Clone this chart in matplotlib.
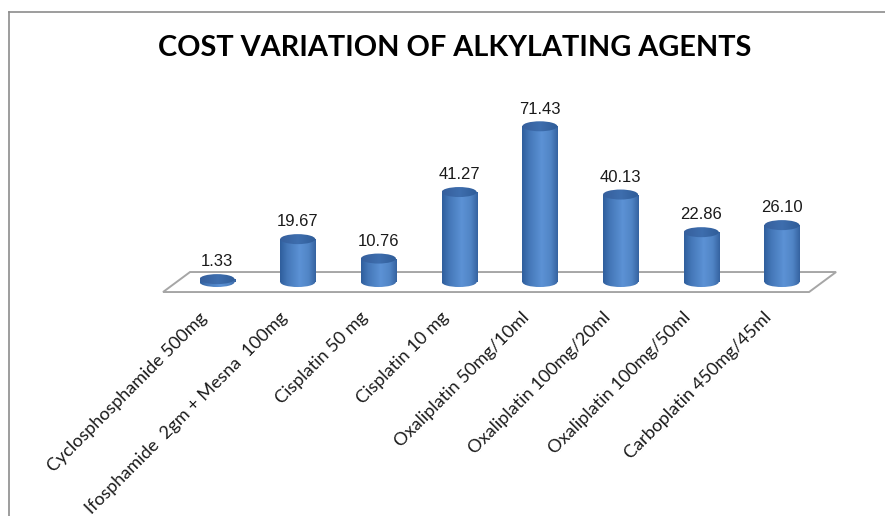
import numpy as np
import matplotlib
matplotlib.use("Agg")
import matplotlib.pyplot as plt
from matplotlib.patches import Ellipse, Polygon
from matplotlib.lines import Line2D
from matplotlib.colors import LinearSegmentedColormap

# ---- data ----
categories = [
    "Cyclosphosphamide 500mg",
    "Ifosphamide  2gm + Mesna  100mg",
    "Cisplatin 50 mg",
    "Cisplatin 10 mg",
    "Oxaliplatin 50mg/10ml",
    "Oxaliplatin 100mg/20ml",
    "Oxaliplatin 100mg/50ml",
    "Carboplatin 450mg/45ml",
]
values = [1.33, 19.67, 10.76, 41.27, 71.43, 40.13, 22.86, 26.10]
value_labels = ["1.33", "19.67", "10.76", "41.27", "71.43", "40.13", "22.86", "26.10"]
title = "COST VARIATION OF ALKYLATING AGENTS"

W, H = 885, 516
fig = plt.figure(figsize=(W / 100, H / 100), dpi=100)
fig.patch.set_facecolor("white")

# axes placement (pixels -> fractions)
ax = fig.add_axes([156.5 / W, (516 - 295.1) / H, 686 / W, 187.5 / H])
ax.set_xlim(-0.75, 7.75)
ax.set_ylim(-6, 80)
ax.axis("off")

px_per_unit_y = 2.18
px_per_unit_x = 80.7
ell_h = 10 / px_per_unit_y      # ellipse height in data units
bar_w = 35 / px_per_unit_x      # bar width in data units
dx = 27 / px_per_unit_x         # floor depth x offset
dy = 20 / px_per_unit_y         # floor depth y offset
n = len(values)

# floor
x_left = -0.669
x_right = n - 1 + 0.336
floor = Polygon([[x_left, -dy / 2], [x_left + dx, dy / 2],
                 [x_right + dx, dy / 2], [x_right, -dy / 2]],
                closed=True, facecolor="white", edgecolor="#A6A6A6",
                lw=1.4, zorder=1)
ax.add_patch(floor)

body_cmap = LinearSegmentedColormap.from_list(
    "cyl", [(0.0, "#2F5E9C"), (0.2, "#4477B8"), (0.55, "#5C92D5"),
            (0.8, "#5185C6"), (1.0, "#3563A0")])
top_cmap = LinearSegmentedColormap.from_list(
    "top", [(0.0, "#2F5C98"), (0.5, "#3E6EAE"), (1.0, "#365F9C")])
grad = np.linspace(0, 1, 128).reshape(1, -1)

bars = ax.bar(range(n), values, width=bar_w, bottom=0,
              color="none", edgecolor="none", zorder=2)

for i, (rect, v) in enumerate(zip(bars, values)):
    x0 = rect.get_x()
    x1 = x0 + rect.get_width()
    # bottom ellipse
    be = Ellipse((i, 0), bar_w, ell_h, facecolor="none", edgecolor="none", zorder=2)
    ax.add_patch(be)
    im = ax.imshow(grad, cmap=body_cmap, extent=[x0, x1, -ell_h, ell_h],
                   aspect="auto", zorder=2, interpolation="bilinear")
    im.set_clip_path(be)
    # body
    im2 = ax.imshow(grad, cmap=body_cmap, extent=[x0, x1, 0, v],
                    aspect="auto", zorder=3, interpolation="bilinear")
    im2.set_clip_path(rect)
    # top ellipse
    te = Ellipse((i, v), bar_w, ell_h, facecolor="none", edgecolor="none", zorder=4)
    ax.add_patch(te)
    im3 = ax.imshow(grad[:, ::-1], cmap=top_cmap,
                    extent=[x0, x1, v - ell_h, v + ell_h],
                    aspect="auto", zorder=4, interpolation="bilinear")
    im3.set_clip_path(te)
    ax.annotate(value_labels[i], (i, v), xytext=(0, 7), textcoords="offset points",
                ha="center", va="bottom", fontsize=12, color="#1a1a1a",
                family="Liberation Sans", zorder=5)

ax.set_xlim(-0.75, 7.75)
ax.set_ylim(-6, 80)

# category labels (rotated)
for i, c in enumerate(categories):
    ax.annotate(c, (i, 0), xycoords="data", xytext=(-13, -33),
                textcoords="offset pixels", rotation=45, rotation_mode="anchor",
                ha="right", va="center", fontsize=13, family="Lato",
                color="#1a1a1a", annotation_clip=False)

# title
fig.text(454.5 / W, 1 - 48 / H, title, ha="center", va="center",
         fontsize=20.8, fontweight="bold", family="Lato", color="black")

# chart frame lines (top and left)
fig.add_artist(Line2D([9 / W, 1.0], [1 - 12 / H, 1 - 12 / H],
                      transform=fig.transFigure, color="#8C8C8C", lw=1.2))
fig.add_artist(Line2D([9 / W, 9 / W], [0, 1 - 12 / H],
                      transform=fig.transFigure, color="#8C8C8C", lw=1.2))

fig.savefig("out.png", dpi=100, facecolor="white")
